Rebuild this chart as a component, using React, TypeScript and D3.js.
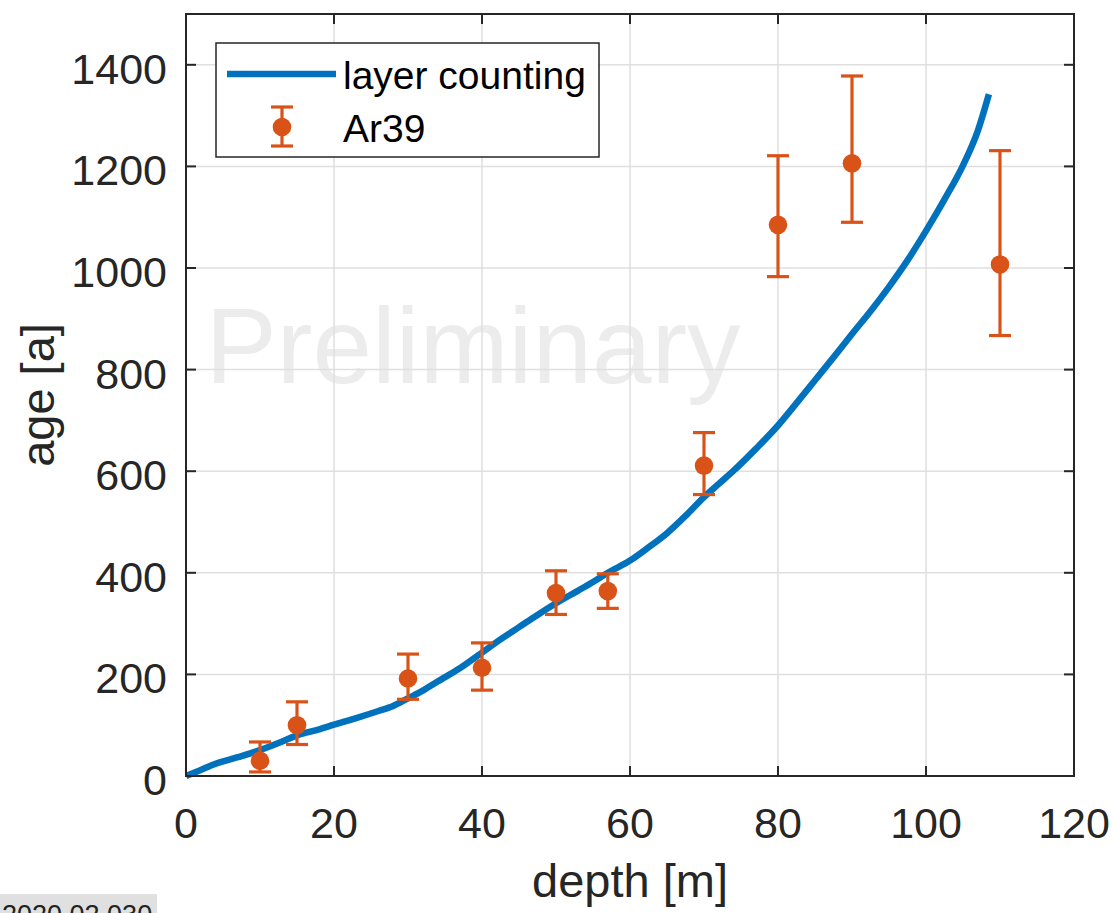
import React from "react";
import * as d3 from "d3";

const curveDepth = [0, 2, 4, 7, 10, 13, 15, 18, 20, 23, 26, 28, 30, 32, 34, 37, 40, 42.5, 45, 47.5, 50, 53, 55, 57, 60, 62.5, 65, 67.5, 70, 72, 74, 77, 80, 82.5, 85, 87.5, 90, 92.5, 95, 97.5, 100, 102.5, 105, 107, 108.5];
const curveAge = [0, 12, 24, 37, 51, 68, 80, 92, 101, 114, 128, 138, 153, 168, 186, 212, 243, 269, 293, 317, 340, 365, 382, 400, 424, 450, 478, 512, 549, 575, 601, 644, 690, 734, 779, 824, 870, 915, 963, 1015, 1073, 1135, 1202, 1270, 1342];

const ar39Depth = [10, 15, 30, 40, 50, 57, 70, 80, 90, 110];
const ar39Age = [30, 100, 192, 213, 360, 364, 611, 1085, 1206, 1007];
const ar39Low = [8, 62, 151, 169, 318, 330, 554, 983, 1090, 867];
const ar39High = [67, 146, 240, 262, 404, 398, 676, 1221, 1378, 1231];

const xTicks = [0, 20, 40, 60, 80, 100, 120];
const yTicks = [0, 200, 400, 600, 800, 1000, 1200, 1400];

const BLUE = "#0072BD";
const ORANGE = "#D95319";
const AXIS = "#262626";
const GRID = "#dfdfdf";
const FONT = "'Liberation Sans', Arial, Helvetica, sans-serif";

export default function App() {
  const W = 1113, H = 913;
  const left = 186, right = 1074, top = 14, bottom = 776;
  const x = d3.scaleLinear().domain([0, 120]).range([left, right]);
  const y = d3.scaleLinear().domain([0, 1500]).range([bottom, top]);
  const line = d3
    .line<number>()
    .x((_, i) => x(curveDepth[i]))
    .y((d) => y(d))
    .curve(d3.curveMonotoneX);
  const tickLen = 10;
  const capHalf = 11;

  return (
    <svg width={W} height={H} style={{ position: "absolute", left: 0, top: 0, background: "#fff" }} fontFamily={FONT}>
      <rect x={0} y={0} width={W} height={H} fill="#fff" />
      <text x={473} y={383} fontSize={107} fill="#ececec" textAnchor="middle">Preliminary</text>
      {xTicks.map((t) => (
        <line key={"gx" + t} x1={x(t)} x2={x(t)} y1={top} y2={bottom} stroke={GRID} strokeWidth={1.5} />
      ))}
      {yTicks.map((t) => (
        <line key={"gy" + t} x1={left} x2={right} y1={y(t)} y2={y(t)} stroke={GRID} strokeWidth={1.5} />
      ))}
      <path d={line(curveAge) || ""} fill="none" stroke={BLUE} strokeWidth={6.5} strokeLinejoin="round" />
      {ar39Depth.map((d, i) => (
        <g key={"e" + i} stroke={ORANGE} strokeWidth={3.2}>
          <line x1={x(d)} x2={x(d)} y1={y(ar39Low[i])} y2={y(ar39High[i])} />
          <line x1={x(d) - capHalf} x2={x(d) + capHalf} y1={y(ar39Low[i])} y2={y(ar39Low[i])} />
          <line x1={x(d) - capHalf} x2={x(d) + capHalf} y1={y(ar39High[i])} y2={y(ar39High[i])} />
          <circle cx={x(d)} cy={y(ar39Age[i])} r={9.3} fill={ORANGE} stroke="none" />
        </g>
      ))}
      <rect x={left} y={top} width={right - left} height={bottom - top} fill="none" stroke={AXIS} strokeWidth={2} />
      {xTicks.map((t) => (
        <g key={"tx" + t} stroke={AXIS} strokeWidth={2}>
          <line x1={x(t)} x2={x(t)} y1={bottom} y2={bottom - tickLen} />
          <line x1={x(t)} x2={x(t)} y1={top} y2={top + tickLen} />
        </g>
      ))}
      {yTicks.map((t) => (
        <g key={"ty" + t} stroke={AXIS} strokeWidth={2}>
          <line x1={left} x2={left + tickLen} y1={y(t)} y2={y(t)} />
          <line x1={right} x2={right - tickLen} y1={y(t)} y2={y(t)} />
        </g>
      ))}
      {xTicks.map((t) => (
        <text key={"lx" + t} x={x(t)} y={bottom + 62} fontSize={43} fill={AXIS} textAnchor="middle">{t}</text>
      ))}
      {yTicks.map((t) => (
        <text key={"ly" + t} x={167} y={y(t) + 19} fontSize={43} fill={AXIS} textAnchor="end">{t}</text>
      ))}
      <text x={(left + right) / 2} y={897} fontSize={47} fill={AXIS} textAnchor="middle">depth [m]</text>
      <text transform={`translate(54, ${(top + bottom) / 2}) rotate(-90)`} fontSize={47} fill={AXIS} textAnchor="middle">age [a]</text>
      <rect x={216} y={43} width={383} height={114} fill="#fff" stroke={AXIS} strokeWidth={1.5} />
      <line x1={227} x2={336} y1={74} y2={74} stroke={BLUE} strokeWidth={6.5} />
      <text x={343} y={89} fontSize={39} fill="#000">layer counting</text>
      <g stroke={ORANGE} strokeWidth={3.2}>
        <line x1={282} x2={282} y1={107} y2={146} />
        <line x1={271} x2={293} y1={107} y2={107} />
        <line x1={271} x2={293} y1={146} y2={146} />
        <circle cx={282} cy={127} r={9.3} fill={ORANGE} stroke="none" />
      </g>
      <text x={343} y={142} fontSize={39} fill="#000">Ar39</text>
      <rect x={0} y={894} width={157} height={20} fill="#e0e0e0" />
      <text x={2} y={924} fontSize={27} fill="#222">2020.02.030</text>
    </svg>
  );
}
